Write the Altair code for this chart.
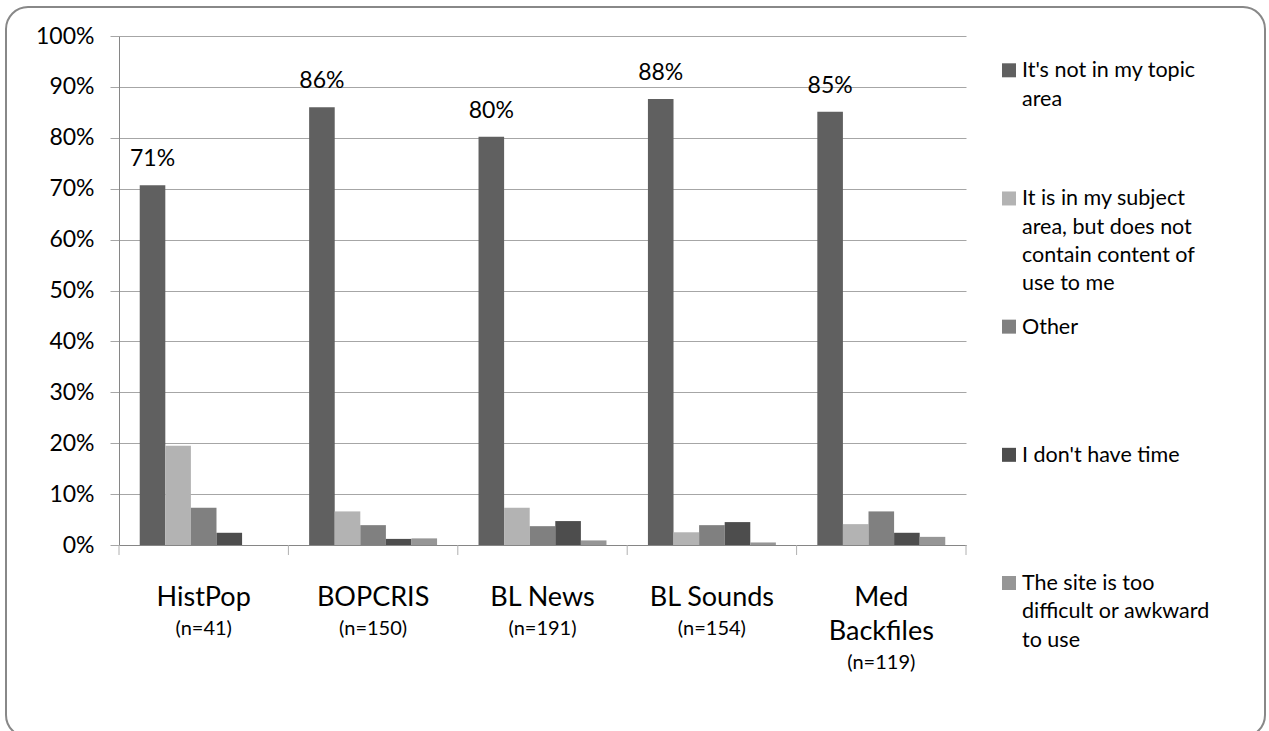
import altair as alt
import pandas as pd

# Survey: reasons for not using each digitised resource (percent of respondents)
categories = ["HistPop", "BOPCRIS", "BL News", "BL Sounds", "Med Backfiles"]
category_lines = ["HistPop", "BOPCRIS", "BL News", "BL Sounds", "Med\nBackfiles"]
respondents = [41, 150, 191, 154, 119]

series = [
    "It's not in my topic area",
    "It is in my subject area, but does not contain content of use to me",
    "Other",
    "I don't have time",
    "The site is too difficult or awkward to use",
]
series_lines = [
    "It's not in my topic\narea",
    "It is in my subject\narea, but does not\ncontain content of\nuse to me",
    "Other",
    "I don't have time",
    "The site is too\ndifficult or awkward\nto use",
]
series_colors = ["#606060", "#b3b3b3", "#808080", "#4d4d4d", "#969696"]

not_topic = [70.7, 86.0, 80.2, 87.6, 85.1]
no_useful_content = [19.5, 6.6, 7.3, 2.5, 4.1]
other = [7.3, 3.9, 3.7, 3.9, 6.6]
no_time = [2.4, 1.2, 4.7, 4.5, 2.4]
too_difficult = [0.0, 1.3, 0.9, 0.5, 1.6]

values_by_series = [not_topic, no_useful_content, other, no_time, too_difficult]

W, H = 847, 509
FONT = "Lato"

rows = []
for s, vals in zip(series, values_by_series):
    for c, v in zip(categories, vals):
        rows.append({"category": c, "series": s, "value": v})
bars_df = pd.DataFrame(rows)

cats_df = pd.DataFrame({
    "category": categories,
    "name": category_lines,
    "n": ["\n" * (name.count("\n")) + f"(n={n})" for name, n in zip(category_lines, respondents)],
})

legend_df = pd.DataFrame({"series": series, "label": series_lines})

x_enc = alt.X(
    "category:N", sort=categories,
    scale=alt.Scale(paddingInner=0, paddingOuter=0),
    axis=alt.Axis(labels=False, ticks=False, title=None, domainColor="#868686", domainWidth=1),
)
y_enc = alt.Y(
    "value:Q",
    scale=alt.Scale(domain=[0, 100], nice=False),
    axis=alt.Axis(
        values=list(range(0, 101, 10)), labelExpr="datum.value + '%'",
        labelFontSize=23, labelColor="#000000", labelPadding=16,
        tickSize=9, tickColor="#a6a6a6", domainColor="#868686",
        gridColor="#a6a6a6", title=None,
    ),
)
xoff_enc = alt.XOffset(
    "series:N", sort=series,
    scale=alt.Scale(domain=series, paddingInner=0, paddingOuter=0.81),
)

# rounded frame around the whole figure
frame = alt.Chart(pd.DataFrame({"k": [0]})).mark_rect(
    fillOpacity=0, stroke="#888888", strokeWidth=2, cornerRadius=22
).encode(
    x=alt.value(6 - 119), x2=alt.value(1265 - 119),
    y=alt.value(7 - 36), y2=alt.value(737 - 36),
)

bars = alt.Chart(bars_df).mark_bar().encode(
    x=x_enc,
    xOffset=xoff_enc,
    y=y_enc,
    color=alt.Color("series:N", sort=series,
                    scale=alt.Scale(domain=series, range=series_colors), legend=None),
)

value_labels = alt.Chart(bars_df).transform_filter(
    alt.datum.series == series[0]
).transform_calculate(
    label="round(datum.value) + '%'"
).mark_text(fontSize=23, baseline="alphabetic", dy=-19, color="#000000").encode(
    x=alt.X("category:N", sort=categories),
    xOffset=alt.XOffset("series:N", sort=series),
    y="value:Q",
    text="label:N",
)

# group separator ticks below the axis
tick_starts = alt.Chart(cats_df).mark_rule(color="#b0b0b0", strokeWidth=1).encode(
    x=alt.X("category:N", sort=categories, bandPosition=0),
    y=alt.value(H), y2=alt.value(H + 10),
)
tick_end = alt.Chart(cats_df).transform_filter(
    alt.datum.category == categories[-1]
).mark_rule(color="#b0b0b0", strokeWidth=1).encode(
    x=alt.X("category:N", sort=categories, bandPosition=1),
    y=alt.value(H), y2=alt.value(H + 10),
)

names = alt.Chart(cats_df).mark_text(
    fontSize=27, baseline="alphabetic", lineBreak="\n", lineHeight=34, color="#000000"
).encode(
    x=alt.X("category:N", sort=categories),
    y=alt.value(H + 61),
    text="name:N",
)
counts = alt.Chart(cats_df).mark_text(
    fontSize=20, baseline="alphabetic", lineBreak="\n", lineHeight=34, color="#000000"
).encode(
    x=alt.X("category:N", sort=categories),
    y=alt.value(H + 90),
    text="n:N",
)

main = alt.layer(frame, bars, value_labels, tick_starts, tick_end, names, counts)

legend_y = alt.Y("series:N", sort=series,
                 scale=alt.Scale(type="point", padding=0, range=[41.3, 554]), axis=None)
legend_swatches = alt.Chart(legend_df).mark_square(size=196, opacity=1, yOffset=-7).encode(
    x=alt.value(1009 - 119),
    y=legend_y,
    color=alt.Color("series:N", sort=series, legend=None),
)
legend_text = alt.Chart(legend_df).mark_text(
    align="left", baseline="alphabetic", lineBreak="\n", lineHeight=28.3,
    fontSize=21.5, color="#000000",
).encode(
    x=alt.value(1022 - 119),
    y=legend_y,
    text="label:N",
)
legend = alt.layer(legend_swatches, legend_text)

chart = alt.layer(main, legend).resolve_scale(y="independent").properties(
    width=W, height=H,
    padding={"left": 119, "top": 36, "right": 1269 - 119 - W, "bottom": 731 - 36 - H},
    autosize=alt.AutoSizeParams(type="none"),
    background="white",
).configure(font=FONT).configure_view(stroke=None)

chart.save("out.html", embed_options={"renderer": "svg", "actions": False})
